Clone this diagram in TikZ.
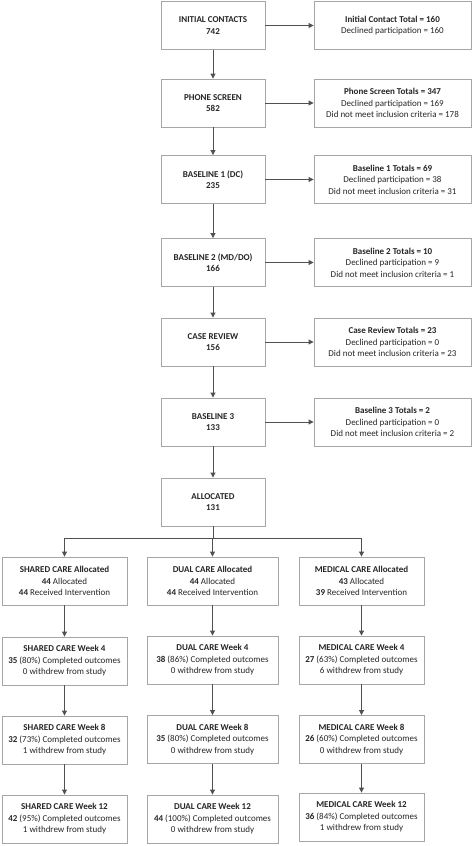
\documentclass[tikz,border=0pt]{standalone}
\usepackage{fontspec}
\setmainfont{Carlito}
\usepackage{xcolor}
\definecolor{boxline}{HTML}{A6A6A6}
\definecolor{arrowline}{HTML}{505050}
\definecolor{txt}{HTML}{262626}
\usetikzlibrary{positioning,arrows.meta}

\tikzset{
  stage/.style={draw=boxline, line width=0.9pt, fill=white, text=txt, align=center,
    minimum width=104pt, minimum height=48pt, inner sep=1pt,
    font=\fontsize{9}{11.5}\selectfont},
  exclbox/.style={stage, minimum width=157pt},
  armbox/.style={stage, minimum width=125pt},
  flow/.style={draw=arrowline, line width=0.9pt, -{Triangle[length=5pt,width=5pt]}}
}

\begin{document}
\begin{tikzpicture}[x=1pt,y=-1pt]
	\useasboundingbox (0,0) rectangle (473,846);
	
	%%% main column
	\node[stage] (contacts) at (213,25.5) {\textbf{INITIAL CONTACTS}\\\textbf{742}};
	\node[stage] (phone) at (213,103) {\textbf{PHONE SCREEN}\\\textbf{582}};
	\node[stage] (base1) at (213,179.5) {\textbf{BASELINE 1 (DC)}\\\textbf{235}};
	\node[stage] (base2) at (213,262.5) {\textbf{BASELINE 2 (MD/DO)}\\\textbf{166}};
	\node[stage] (review) at (213,342) {\textbf{CASE REVIEW}\\\textbf{156}};
	\node[stage] (base3) at (213,422) {\textbf{BASELINE 3}\\\textbf{133}};
	\node[stage] (alloc) at (213,502) {\textbf{ALLOCATED}\\\textbf{131}};
	
	%%% exclusions
	\node[exclbox] (contactsx) at (392.5,25.5) {\textbf{Initial Contact Total = 160}\\Declined participation = 160};
	\node[exclbox] (phonex) at (392.5,103) {\textbf{Phone Screen Totals = 347}\\Declined participation = 169\\Did not meet inclusion criteria = 178};
	\node[exclbox] (base1x) at (392.5,179.5) {\textbf{Baseline 1 Totals = 69}\\Declined participation = 38\\Did not meet inclusion criteria = 31};
	\node[exclbox] (base2x) at (392.5,262.5) {\textbf{Baseline 2 Totals = 10}\\Declined participation = 9\\Did not meet inclusion criteria = 1};
	\node[exclbox] (reviewx) at (392.5,342) {\textbf{Case Review Totals = 23}\\Declined participation = 0\\Did not meet inclusion criteria = 23};
	\node[exclbox] (base3x) at (392.5,422) {\textbf{Baseline 3 Totals = 2}\\Declined participation = 0\\Did not meet inclusion criteria = 2};
	
	%%% arms
	\node[armbox] (sharedA) at (64.5,581) {\textbf{SHARED CARE Allocated}\\\textbf{44} Allocated\\\textbf{44} Received Intervention};
	\node[armbox, minimum width=131pt] (dualA) at (212.5,581) {\textbf{DUAL CARE Allocated}\\\textbf{44} Allocated\\\textbf{44} Received Intervention};
	\node[armbox] (medA) at (361.5,581) {\textbf{MEDICAL CARE Allocated}\\\textbf{43} Allocated\\\textbf{39} Received Intervention};
	
	\node[armbox] (sharedW4) at (64.5,661) {\textbf{SHARED CARE Week 4}\\\textbf{35} (80\%) Completed outcomes\\0 withdrew from study};
	\node[armbox, minimum width=131pt] (dualW4) at (212.5,660) {\textbf{DUAL CARE Week 4}\\\textbf{38} (86\%) Completed outcomes\\0 withdrew from study};
	\node[armbox] (medW4) at (361.5,660) {\textbf{MEDICAL CARE Week 4}\\\textbf{27} (63\%) Completed outcomes\\6 withdrew from study};
	
	\node[armbox] (sharedW8) at (64.5,740) {\textbf{SHARED CARE Week 8}\\\textbf{32} (73\%) Completed outcomes\\1 withdrew from study};
	\node[armbox, minimum width=131pt] (dualW8) at (212.5,739.5) {\textbf{DUAL CARE Week 8}\\\textbf{35} (80\%) Completed outcomes\\0 withdrew from study};
	\node[armbox] (medW8) at (361.5,739.5) {\textbf{MEDICAL CARE Week 8}\\\textbf{26} (60\%) Completed outcomes\\0 withdrew from study};
	
	\node[armbox] (sharedW12) at (64.5,819) {\textbf{SHARED CARE Week 12}\\\textbf{42} (95\%) Completed outcomes\\1 withdrew from study};
	\node[armbox, minimum width=131pt] (dualW12) at (212.5,819) {\textbf{DUAL CARE Week 12}\\\textbf{44} (100\%) Completed outcomes\\0 withdrew from study};
	\node[armbox] (medW12) at (361.5,817) {\textbf{MEDICAL CARE Week 12}\\\textbf{36} (84\%) Completed outcomes\\1 withdrew from study};
	
	%%% arrows down the main column
	\foreach \a/\b in {contacts/phone,phone/base1,base1/base2,base2/review,review/base3,base3/alloc}
		\draw[flow] (\a) -- (\b);
	
	%%% arrows to the exclusions
	\foreach \a in {contacts,phone,base1,base2,review,base3}
		\draw[flow] (\a) -- (\a x);
	
	%%% split into three arms
	\coordinate (split) at (213,538);
	\draw[draw=arrowline, line width=0.9pt] (alloc.south) -- (split);
	\draw[draw=arrowline, line width=0.9pt] (sharedA.north |- split) -- (medA.north |- split);
	\foreach \arm in {sharedA,dualA,medA}
		\draw[flow] (\arm.north |- split) -- (\arm.north);
	
	%%% arrows down each arm
	\foreach \arm in {shared,dual,med}{
		\draw[flow] (\arm A) -- (\arm W4);
		\draw[flow] (\arm W4) -- (\arm W8);
		\draw[flow] (\arm W8) -- (\arm W12);
	}
	
\end{tikzpicture}
\end{document}
